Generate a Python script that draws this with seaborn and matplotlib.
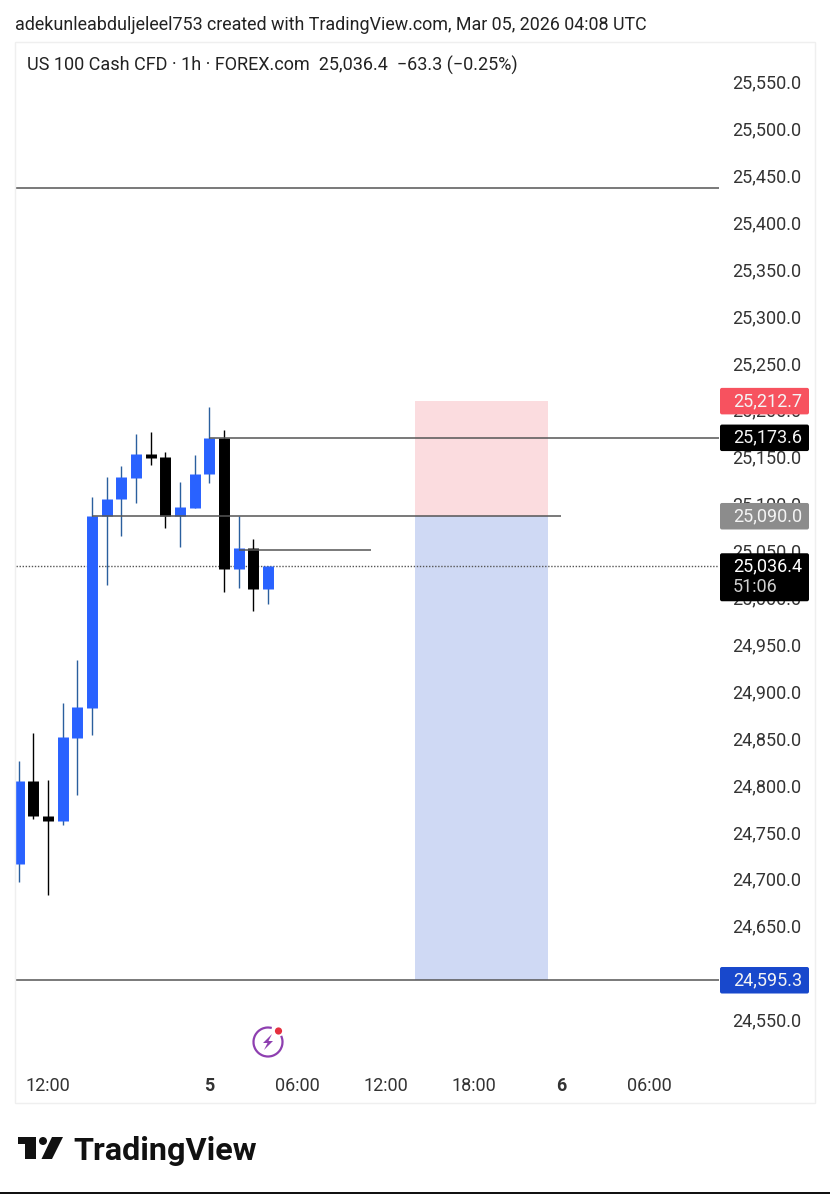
import matplotlib
matplotlib.use('Agg')
import matplotlib.pyplot as plt
from matplotlib.patches import Arc, Circle, FancyBboxPatch, Polygon, Rectangle
from matplotlib.transforms import ScaledTranslation
import numpy as np
import pandas as pd
import seaborn as sns

# hourly candles, hour index counted from the 12:00 label
hours = list(range(-2, 16))
opens = [24719, 24807, 24770.5, 24765, 24853, 24885, 25090, 25108, 25131,
         25156, 25152.6, 25090, 25099, 25135, 25173.6, 25033, 25055.5, 25012]
highs = [24829, 24859, 24808, 24891, 24936, 25110, 25132, 25143, 25177,
         25179, 25158, 25126, 25155, 25206, 25182, 25090, 25065, 25036.4]
lows = [24700, 24767, 24686, 24761, 24793, 24856.5, 25016, 25069, 25103.5,
        25144, 25077, 25057, 25099, 25125, 25009, 25013.5, 24989, 24996]
closes = [24807, 24770, 24765, 24854, 24886, 25090, 25108.4, 25132, 25156,
          25151.5, 25090, 25100, 25135, 25173, 25033, 25055.5, 25012, 25036.4]

# 24,600 is fully hidden under the target tag
price_ticks = [p for p in range(24550, 25600, 50) if p != 24600]
time_ticks = [0, 11, 17, 23, 29, 35, 41]
time_labels = ['12:00', '5', '06:00', '12:00', '18:00', '6', '06:00']

top_level = 25440
stop_level = 25212.7
entry_level = 25090
target_level = 24595.3
swing_level = 25173.6
minor_level = 25053.5
last_price = 25036.4
position_hours = [25, 34.05]

W, H = 830, 1194
FONT = 'Roboto'


def fx(px):
    return px / W


def fy(py):
    return 1 - py / H


sns.set_theme(style='white')
plt.rcParams['font.family'] = [FONT, 'DejaVu Sans']

fig = plt.figure(figsize=(W / 100, H / 100), dpi=100, facecolor='white')
ax = fig.add_axes([fx(16), fy(1065), fx(719 - 16), (1065 - 43) / H])
ax.set_facecolor('white')

# long tables so seaborn draws wicks and bodies as vertical segments
rows = []
for h, o, hi, lo, c in zip(hours, opens, highs, lows, closes):
    d = 'up' if c >= o else 'down'
    rows.append(dict(hour=h, price=lo, dir=d, part='wick'))
    rows.append(dict(hour=h, price=hi, dir=d, part='wick'))
    rows.append(dict(hour=h, price=o, dir=d, part='body'))
    rows.append(dict(hour=h, price=c, dir=d, part='body'))
df = pd.DataFrame(rows)

ax.fill_between(position_hours, entry_level, stop_level, color='#fbdcdf', lw=0, zorder=1)
ax.fill_between(position_hours, target_level, entry_level, color='#cfd9f4', lw=0, zorder=1)

sns.lineplot(data=df[df.part == 'wick'], x='hour', y='price', units='hour', estimator=None,
             hue='dir', palette={'up': '#2a5f9e', 'down': '#000000'}, linewidth=1.0,
             solid_capstyle='butt', legend=False, sort=False, ax=ax, zorder=3)
sns.lineplot(data=df[df.part == 'body'], x='hour', y='price', units='hour', estimator=None,
             hue='dir', palette={'up': '#2962ff', 'down': '#000000'}, linewidth=7.9,
             solid_capstyle='butt', legend=False, sort=False, ax=ax, zorder=4)

x_left = -2.18
x_right = 45.74
ax.hlines(top_level, x_left, x_right, color='#555555', lw=1.1, zorder=5)
ax.hlines(target_level, x_left, x_right, color='#555555', lw=1.1, zorder=5)
ax.hlines(swing_level, 11, x_right, color='#555555', lw=1.1, zorder=5)
ax.hlines(entry_level, 3, 35, color='#555555', lw=1.1, zorder=5)
ax.hlines(minor_level, 13, 22, color='#555555', lw=1.1, zorder=5)
ax.hlines(last_price, x_left, x_right, color='#555555', lw=1.0, linestyles=(0, (1, 1.2)), zorder=2)

ax.set_xlim(x_left, x_right)
ax.set_ylim(25550 - (1065 - 84.5) * 1.0661, 25550 + (84.5 - 43) * 1.0661)
ax.set_xlabel('')
ax.set_ylabel('')
ax.yaxis.tick_right()
ax.set_yticks(price_ticks)
ax.set_yticklabels(['{:,.1f}'.format(p) for p in price_ticks])
ax.set_xticks(time_ticks)
ax.set_xticklabels(time_labels)
ax.tick_params(axis='y', length=0, pad=9.4, labelsize=13, labelcolor='#333333')
ax.tick_params(axis='x', length=0, pad=8.6, labelsize=13, labelcolor='#333333')
for lab in ax.get_xticklabels():
    if lab.get_text() in ('5', '6'):
        lab.set_fontweight('bold')
# text sits a little above the true level in the reference
for lab in ax.get_yticklabels():
    lab.set_transform(lab.get_transform() + ScaledTranslation(0, 3 / 100, fig.dpi_scale_trans))
sns.despine(ax=ax, left=True, right=True, top=True, bottom=True)

# frame around the chart
fig.add_artist(Rectangle((fx(15), fy(1103)), fx(800), 1061 / H, fill=False, ec='#efefef', lw=1,
                         transform=fig.transFigure))
fig.add_artist(Rectangle((0, fy(1193.5)), 1, 1.5 / H, fc='#111111', ec='none',
                         transform=fig.transFigure))

fig.text(fx(15), fy(24.5), 'adekunleabduljeleel753 created with TradingView.com, Mar 05, 2026 04:08 UTC',
         fontsize=12.87, color='#222222', va='center', ha='left')
fig.text(fx(27), fy(65), 'US 100 Cash CFD · 1h · FOREX.com  25,036.4  −63.3 (−0.25%)',
         fontsize=12.95, color='#222222', va='center', ha='left')

# overlay on a pixel grid for the tags, badge and logo
over = fig.add_axes([0, 0, 1, 1], zorder=10)
over.set_xlim(0, W)
over.set_ylim(H, 0)
over.axis('off')
over.patch.set_alpha(0)


def level_y(level):
    return over.transData.inverted().transform(ax.transData.transform((0, level)))[1]


def tag(level, col, up, down):
    y = level_y(level)
    over.add_patch(FancyBboxPatch((721, y - up + 1), 87, up + down - 2,
                                  boxstyle='round,pad=1,rounding_size=2', fc=col, ec='none'))


for level, col, txt in [(stop_level, '#f7525f', '25,212.7'),
                        (swing_level, '#000000', '25,173.6'),
                        (entry_level, '#8c8c8c', '25,090.0'),
                        (target_level, '#1848cc', '24,595.3')]:
    tag(level, col, 13, 13.5)
    over.text(733, level_y(level), txt, fontsize=13, color='#f4f4f4', va='center', ha='left')

tag(last_price, '#000000', 13, 35)
over.text(733, level_y(last_price), '25,036.4', fontsize=13, color='white', va='center', ha='left')
over.text(733, level_y(last_price) + 21, '51:06', fontsize=13, color='#cfcfcf', va='center', ha='left')

over.add_patch(Arc((268, 1042), 29, 29, theta1=-25, theta2=285, ec='#8e3fb0', lw=1.6))
over.add_patch(Polygon([(272, 1034), (263, 1043), (267.5, 1043), (264, 1050), (273, 1041), (268.5, 1041)],
                       fc='#8e3fb0', ec='none'))
over.add_patch(Circle((278.5, 1031), 3.6, fc='#e5303f', ec='none'))

# TradingView mark and word
over.add_patch(Polygon([(18, 1137), (36, 1137), (36, 1159), (25, 1159), (25, 1144), (18, 1144)],
                       fc='#111111', ec='none'))
over.add_patch(Circle((43, 1141), 4, fc='#111111', ec='none'))
over.add_patch(Polygon([(52, 1137), (63, 1137), (52, 1159), (41.5, 1159)], fc='#111111', ec='none'))
fig.text(fx(73), fy(1151.5), 'TradingView', fontsize=23.3, fontweight='bold', color='#111111',
         va='center', ha='left', zorder=11)

fig.savefig('out.png', dpi=100)
